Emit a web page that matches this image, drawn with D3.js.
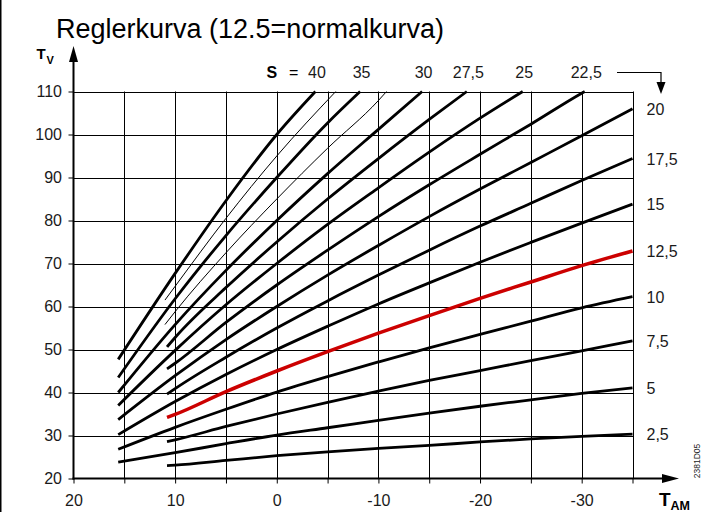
<!DOCTYPE html>
<html><head><meta charset="utf-8">
<script src="https://cdn.jsdelivr.net/npm/d3@7"></script>
<style>
body{margin:0;background:#fff;}
svg{display:block;font-family:"Liberation Sans",Arial,Helvetica,sans-serif;}
</style>
</head><body>
<svg id="chart" width="701" height="512"></svg>
<script>
// ---------------- data ----------------
const titleText = "Reglerkurva (12.5=normalkurva)";
const xGridValues = [20, 15, 10, 5, 0, -5, -10, -15, -20, -25, -30, -35];
const xTickLabels = [20, 10, 0, -10, -20, -30];
const yTickValues = [20, 30, 40, 50, 60, 70, 80, 90, 100, 110];

// heating curves: [outdoor temp T_AM, flow temp T_V]
const curve2_5  = [[10.8,23.0],[10,23.1],[5,24.2],[0,25.3],[-5,26.2],[-10,27.0],[-15,27.7],[-20,28.5],[-25,29.2],[-30,29.8],[-35,30.3]];
const curve5    = [[15.6,23.8],[10,26.0],[5,28.1],[0,30.1],[-5,31.8],[-10,33.5],[-15,35.2],[-20,36.8],[-25,38.3],[-30,39.8],[-35,41.1]];
const curve7_5  = [[10.8,28.6],[10,29.0],[5,32.1],[0,35.0],[-5,37.7],[-10,40.3],[-15,42.8],[-20,45.1],[-25,47.4],[-30,49.7],[-35,52.0]];
const curve10   = [[15.6,26.8],[10,31.9],[5,36.1],[0,40.1],[-5,43.7],[-10,47.1],[-15,50.4],[-20,53.5],[-25,56.6],[-30,59.7],[-35,62.3]];
const curve12_5 = [[10.8,34.2],[10,34.9],[5,40.2],[0,45.0],[-5,49.5],[-10,53.8],[-15,57.9],[-20,61.9],[-25,65.7],[-30,69.5],[-35,72.9]];
const curve15   = [[15.6,30.2],[10,37.9],[5,44.2],[0,50.0],[-5,55.4],[-10,60.6],[-15,65.5],[-20,70.3],[-25,74.9],[-30,79.4],[-35,83.8]];
const curve17_5 = [[10.8,39.6],[10,40.9],[5,48.2],[0,55.0],[-5,61.3],[-10,67.3],[-15,73.1],[-20,78.7],[-25,84.0],[-30,89.3],[-35,94.4]];
const curve20   = [[15.6,33.7],[10,43.9],[5,52.3],[0,60.0],[-5,67.3],[-10,74.2],[-15,80.9],[-20,87.3],[-25,93.5],[-30,99.7],[-35,106.0]];
const curve22_5 = [[10.8,45.5],[10,46.8],[5,56.3],[0,65.0],[-5,73.1],[-10,80.9],[-15,88.3],[-20,95.4],[-25,102.4],[-30,109.6],[-30.3,110]];
const curve25   = [[15.6,37.0],[10,49.8],[5,60.4],[0,70.0],[-5,79.1],[-10,87.6],[-15,95.9],[-20,103.8],[-24.2,110]];
const curve27_5 = [[10.8,50.6],[10,52.8],[5,64.4],[0,75.0],[-5,85.0],[-10,94.4],[-15,103.5],[-18.7,110]];
const curve30   = [[15.6,40.0],[10,55.8],[5,68.4],[0,80.0],[-5,90.9],[-10,101.2],[-14.3,110]];
const curve32_5 = [[11.0,55.8],[10,58.8],[5,72.5],[0,85.0],[-5,96.8],[-10,107.9],[-10.8,110]];
const curve35   = [[15.6,43.5],[10,61.8],[5,76.5],[0,90.0],[-5,102.7],[-8.2,110]];
const curve37_5 = [[11.0,61.5],[10,64.7],[5,80.5],[0,95.0],[-5.8,110]];
const curve40   = [[15.6,47.7],[10,67.7],[5,84.6],[0,100.0],[-3.8,110]];

const slopeValues = [2.5, 5, 7.5, 10, 12.5, 15, 17.5, 20, 22.5, 25, 27.5, 30, 32.5, 35, 37.5, 40];
const curveList = [curve2_5, curve5, curve7_5, curve10, curve12_5, curve15, curve17_5, curve20,
                   curve22_5, curve25, curve27_5, curve30, curve32_5, curve35, curve37_5, curve40];
const thinSlopes = [32.5, 37.5];
const normalSlope = 12.5;
const rightLabelSlopes = [20, 17.5, 15, 12.5, 10, 7.5, 5, 2.5];
const topLabelSlopes = [40, 35, 30, 27.5, 25, 22.5];
const codeText = "2381D05";

// ---------------- drawing ----------------
const svg = d3.select("#chart");
const x = d3.scaleLinear().domain([20, -35]).range([73.5, 632.5]);
const y = d3.scaleLinear().domain([20, 110]).range([478.5, 91.5]);
const crisp = v => Math.round(v) + 0.5;
const fmt = v => String(v).replace(".", ",");

// left frame line
svg.append("line").attr("x1", 0.75).attr("x2", 0.75).attr("y1", 0).attr("y2", 512)
  .attr("stroke", "#000").attr("stroke-width", 1.5);

// title
svg.append("text").attr("x", 56).attr("y", 38).attr("font-size", 27).attr("fill", "#000")
  .text(titleText);

// grid
const grid = svg.append("g").attr("stroke", "#000").attr("stroke-width", 1);
grid.selectAll("line.v").data(xGridValues.filter(v => v !== 20)).join("line")
  .attr("x1", d => crisp(x(d))).attr("x2", d => crisp(x(d)))
  .attr("y1", y(110)).attr("y2", y(20));
grid.selectAll("line.h").data(yTickValues.filter(v => v !== 20)).join("line")
  .attr("x1", x(20)).attr("x2", crisp(x(-35)))
  .attr("y1", d => crisp(y(d))).attr("y2", d => crisp(y(d)));

// axes
const xAxis = d3.axisBottom(x).tickValues(xGridValues)
  .tickFormat(d => xTickLabels.includes(d) ? d : "").tickSize(5).tickPadding(11);
const gx = svg.append("g").attr("transform", `translate(0,${y(20)})`).call(xAxis);
const yAxis = d3.axisLeft(y).tickValues(yTickValues).tickSize(5).tickPadding(6.5);
const gy = svg.append("g").attr("transform", `translate(${x(20)},0)`).call(yAxis);
[gx, gy].forEach(g => {
  g.select(".domain").remove();
  g.selectAll(".tick line").attr("stroke", "#000").attr("stroke-width", 1);
  g.selectAll(".tick text").attr("font-size", 16).attr("fill", "#1a1a1a")
    .attr("font-family", "Liberation Sans, Arial, sans-serif");
});

// thick axis lines with arrows
svg.append("line").attr("x1", x(20)).attr("x2", x(20)).attr("y1", y(20) + 1).attr("y2", 60)
  .attr("stroke", "#000").attr("stroke-width", 2);
svg.append("path").attr("d", `M${x(20)},46 L${x(20) - 4.5},62 L${x(20) + 4.5},62 Z`).attr("fill", "#000");
svg.append("line").attr("x1", x(20) - 1).attr("x2", 664).attr("y1", y(20)).attr("y2", y(20))
  .attr("stroke", "#000").attr("stroke-width", 2);
svg.append("path").attr("d", `M679,${y(20)} L662,${y(20) - 4.5} L662,${y(20) + 4.5} Z`).attr("fill", "#000");

// axis titles
svg.append("text").attr("x", 36.5).attr("y", 59).attr("font-size", 15).attr("font-weight", "bold").text("T");
svg.append("text").attr("x", 46.5).attr("y", 63.5).attr("font-size", 11).attr("font-weight", "bold").text("V");
svg.append("text").attr("x", 659).attr("y", 506).attr("font-size", 19).attr("font-weight", "bold").text("T");
svg.append("text").attr("x", 670.5).attr("y", 510).attr("font-size", 12.5).attr("font-weight", "bold").text("AM");

// curves
const line = d3.line().x(d => x(d[0])).y(d => y(d[1])).curve(d3.curveMonotoneX);
const curveData = slopeValues.map((s, i) => ({ s, pts: curveList[i] }));
const order = curveData.filter(c => c.s !== normalSlope).concat(curveData.filter(c => c.s === normalSlope));
svg.append("g").selectAll("path").data(order).join("path")
  .attr("d", d => line(d.pts))
  .attr("fill", "none")
  .attr("stroke", d => d.s === normalSlope ? "#cc0000" : "#000")
  .attr("stroke-width", d => d.s === normalSlope ? 3.5 : (thinSlopes.includes(d.s) ? 1 : 2.8));

// right labels
svg.append("g").selectAll("text").data(rightLabelSlopes).join("text")
  .attr("x", x(-35) + 14)
  .attr("y", s => { const p = curveList[slopeValues.indexOf(s)]; return y(p[p.length - 1][1]) + 0.5; })
  .attr("dy", "0.35em").attr("font-size", 16).attr("fill", "#1a1a1a")
  .text(s => fmt(s));

// top labels
svg.append("g").selectAll("text").data(topLabelSlopes).join("text")
  .attr("x", s => { const p = curveList[slopeValues.indexOf(s)]; return x(p[p.length - 1][0]) + 1.5; })
  .attr("y", 72.5).attr("dy", "0.35em").attr("text-anchor", "middle")
  .attr("font-size", 16).attr("fill", "#1a1a1a")
  .text(s => fmt(s));
svg.append("text").attr("x", 266.5).attr("y", 72.5).attr("dy", "0.35em")
  .attr("font-size", 16).attr("font-weight", "bold").text("S");
svg.append("text").attr("x", 289).attr("y", 72.5).attr("dy", "0.35em")
  .attr("font-size", 16).text("=");

// arrow from last top label to right side labels
svg.append("path").attr("d", "M617,72.5 H661 V83").attr("fill", "none").attr("stroke", "#000").attr("stroke-width", 1.2);
svg.append("path").attr("d", "M656.5,82 L665.5,82 L661,94 Z").attr("fill", "#000");

// figure code
svg.append("text").attr("transform", "translate(699.5,461) rotate(-90)")
  .attr("text-anchor", "middle").attr("font-size", 8.5).attr("fill", "#222").text(codeText);
</script>
</body></html>
